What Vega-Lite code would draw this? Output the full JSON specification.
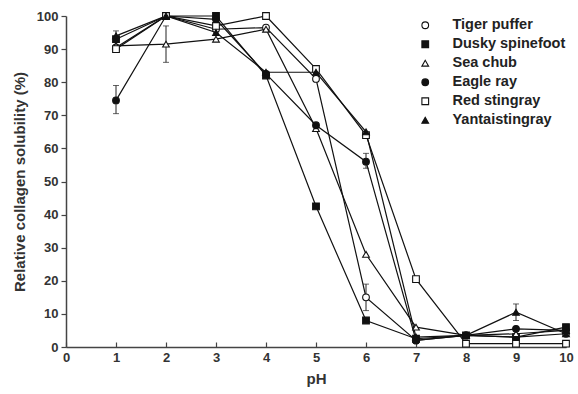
{
  "$schema": "https://vega.github.io/schema/vega-lite/v6.json",
  "width": 500,
  "height": 331,
  "autosize": {"type": "none"},
  "padding": {"left": 66, "top": 16, "right": 12, "bottom": 47},
  "background": "white",
  "config": {
    "view": {"stroke": null},
    "font": "Liberation Sans",
    "axis": {"labelFont": "Liberation Sans", "titleFont": "Liberation Sans", "labelFontWeight": "bold", "titleFontWeight": "bold", "labelColor": "#333", "titleColor": "#333", "domainColor": "#444", "tickColor": "#444", "domainWidth": 1.5, "tickWidth": 1.2, "grid": false, "labelFontSize": 13, "titleFontSize": 15}
  },
  "data": {"values": [
    {"series": "Tiger puffer", "pH": 1, "value": 90.5, "lo": 89, "hi": 92},
    {"series": "Tiger puffer", "pH": 2, "value": 100},
    {"series": "Tiger puffer", "pH": 3, "value": 96},
    {"series": "Tiger puffer", "pH": 4, "value": 96.5},
    {"series": "Tiger puffer", "pH": 5, "value": 81},
    {"series": "Tiger puffer", "pH": 6, "value": 15, "lo": 11, "hi": 19},
    {"series": "Tiger puffer", "pH": 7, "value": 2},
    {"series": "Tiger puffer", "pH": 8, "value": 3.5},
    {"series": "Tiger puffer", "pH": 9, "value": 3},
    {"series": "Tiger puffer", "pH": 10, "value": 4},
    {"series": "Dusky spinefoot", "pH": 1, "value": 93},
    {"series": "Dusky spinefoot", "pH": 2, "value": 100},
    {"series": "Dusky spinefoot", "pH": 3, "value": 100},
    {"series": "Dusky spinefoot", "pH": 4, "value": 82},
    {"series": "Dusky spinefoot", "pH": 5, "value": 42.5},
    {"series": "Dusky spinefoot", "pH": 6, "value": 8},
    {"series": "Dusky spinefoot", "pH": 7, "value": 2.5},
    {"series": "Dusky spinefoot", "pH": 8, "value": 3.5},
    {"series": "Dusky spinefoot", "pH": 9, "value": 3},
    {"series": "Dusky spinefoot", "pH": 10, "value": 6},
    {"series": "Sea chub", "pH": 1, "value": 91},
    {"series": "Sea chub", "pH": 2, "value": 91.5, "lo": 86, "hi": 97},
    {"series": "Sea chub", "pH": 3, "value": 93},
    {"series": "Sea chub", "pH": 4, "value": 96},
    {"series": "Sea chub", "pH": 5, "value": 66},
    {"series": "Sea chub", "pH": 6, "value": 28},
    {"series": "Sea chub", "pH": 7, "value": 6},
    {"series": "Sea chub", "pH": 8, "value": 3.5},
    {"series": "Sea chub", "pH": 9, "value": 4},
    {"series": "Sea chub", "pH": 10, "value": 5},
    {"series": "Eagle ray", "pH": 1, "value": 74.5, "lo": 70.5, "hi": 79},
    {"series": "Eagle ray", "pH": 2, "value": 100},
    {"series": "Eagle ray", "pH": 3, "value": 99},
    {"series": "Eagle ray", "pH": 4, "value": 82.5},
    {"series": "Eagle ray", "pH": 5, "value": 67},
    {"series": "Eagle ray", "pH": 6, "value": 56, "lo": 54, "hi": 58.5},
    {"series": "Eagle ray", "pH": 7, "value": 2},
    {"series": "Eagle ray", "pH": 8, "value": 3.5},
    {"series": "Eagle ray", "pH": 9, "value": 5.5},
    {"series": "Eagle ray", "pH": 10, "value": 5},
    {"series": "Red stingray", "pH": 1, "value": 90},
    {"series": "Red stingray", "pH": 2, "value": 100},
    {"series": "Red stingray", "pH": 3, "value": 97},
    {"series": "Red stingray", "pH": 4, "value": 100},
    {"series": "Red stingray", "pH": 5, "value": 84},
    {"series": "Red stingray", "pH": 6, "value": 64},
    {"series": "Red stingray", "pH": 7, "value": 20.5},
    {"series": "Red stingray", "pH": 8, "value": 1},
    {"series": "Red stingray", "pH": 9, "value": 1},
    {"series": "Red stingray", "pH": 10, "value": 1},
    {"series": "Yantaistingray", "pH": 1, "value": 94, "lo": 93, "hi": 95.5},
    {"series": "Yantaistingray", "pH": 2, "value": 100},
    {"series": "Yantaistingray", "pH": 3, "value": 95},
    {"series": "Yantaistingray", "pH": 4, "value": 83},
    {"series": "Yantaistingray", "pH": 5, "value": 83},
    {"series": "Yantaistingray", "pH": 6, "value": 65},
    {"series": "Yantaistingray", "pH": 7, "value": 3},
    {"series": "Yantaistingray", "pH": 8, "value": 3.5},
    {"series": "Yantaistingray", "pH": 9, "value": 10.5, "lo": 8, "hi": 13},
    {"series": "Yantaistingray", "pH": 10, "value": 4}
  ]},
  "encoding": {
    "x": {"field": "pH", "type": "quantitative", "scale": {"domain": [0, 10], "nice": false}, "axis": {"title": "pH", "values": [0,1,2,3,4,5,6,7,8,9,10], "tickSize": -5, "labelPadding": 9, "titlePadding": 7, "labelFlush": false}},
    "y": {"field": "value", "type": "quantitative", "scale": {"domain": [0, 100], "nice": false}, "axis": {"title": "Relative collagen solubility (%)", "values": [0,10,20,30,40,50,60,70,80,90,100], "tickSize": 5, "labelPadding": 3, "titlePadding": 9, "labelFlush": false}}
  },
  "layer": [
    {
      "transform": [{"filter": "isValid(datum.lo)"}],
      "mark": {"type": "errorbar", "ticks": {"size": 6, "color": "#222"}, "rule": {"color": "#222", "strokeWidth": 1}},
      "encoding": {"y": {"field": "lo", "type": "quantitative"}, "y2": {"field": "hi"}}
    },
    {
      "mark": {"type": "line", "color": "#111", "strokeWidth": 1.2},
      "encoding": {"detail": {"field": "series"}}
    },
    {
      "mark": {"type": "point", "filled": false, "stroke": "#111", "strokeWidth": 1.1, "size": 45, "opacity": 1},
      "encoding": {
        "shape": {"field": "series", "type": "nominal", "scale": {"domain": ["Tiger puffer", "Dusky spinefoot", "Sea chub", "Eagle ray", "Red stingray", "Yantaistingray"], "range": ["circle", "square", "triangle-up", "circle", "square", "triangle-up"]}, "legend": {"title": null, "orient": "none", "legendX": 352, "legendY": 2, "labelFontSize": 14.5, "labelFontWeight": "bold", "labelColor": "#222", "symbolSize": 45, "symbolStrokeWidth": 1.1, "rowPadding": 4, "labelOffset": 20}},
        "fill": {"field": "series", "type": "nominal", "scale": {"domain": ["Tiger puffer", "Dusky spinefoot", "Sea chub", "Eagle ray", "Red stingray", "Yantaistingray"], "range": ["white", "#111", "white", "#111", "white", "#111"]}, "legend": {"title": null}}
      }
    }
  ]
}
